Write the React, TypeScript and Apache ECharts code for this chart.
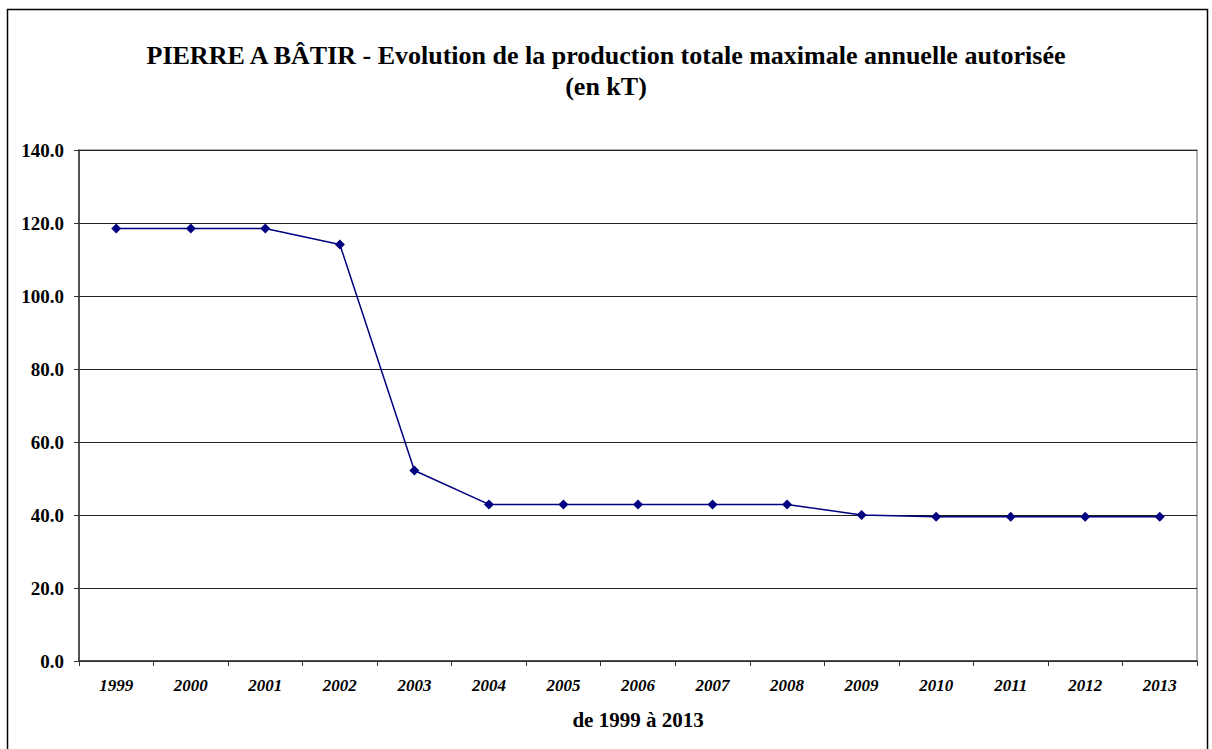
import React, { useEffect, useRef } from "react";
import * as echarts from "echarts";

const years = ["1999", "2000", "2001", "2002", "2003", "2004", "2005", "2006", "2007", "2008", "2009", "2010", "2011", "2012", "2013"];
const production = [118.5, 118.5, 118.5, 114.1, 52.2, 42.9, 42.9, 42.9, 42.9, 42.9, 40.0, 39.5, 39.5, 39.5, 39.5];
const yTicks = { min: 0, max: 140, interval: 20 };
const titleLine1 = "PIERRE A BÂTIR - Evolution de la production totale maximale annuelle autorisée";
const titleLine2 = "(en kT)";
const xAxisName = "de 1999 à 2013";

const FONT = "Liberation Serif";

export default function App() {
  const ref = useRef<HTMLDivElement>(null);
  useEffect(() => {
    if (!ref.current) return;
    const chart = echarts.init(ref.current, null, { renderer: "svg" });
    const titleStyle = {
      fontFamily: FONT,
      fontWeight: "bold",
      fontSize: 26,
      color: "#000",
    };
    chart.setOption({
      animation: false,
      backgroundColor: "#ffffff",
      title: [
        { text: titleLine1, left: "center", top: 37, textStyle: titleStyle },
        { text: titleLine2, left: "center", top: 68, textStyle: titleStyle },
      ],
      graphic: [
        {
          type: "rect",
          shape: { x: 7.5, y: 9.5, width: 1200, height: 760 },
          style: { fill: "none", stroke: "#000", lineWidth: 1.5 },
          silent: true,
          z: 100,
        },
      ],
      grid: {
        left: 79,
        top: 150,
        right: 15,
        bottom: 88,
        show: true,
        borderColor: "#999",
        borderWidth: 1.5,
        containLabel: false,
      },
      xAxis: {
        type: "category",
        data: years,
        boundaryGap: true,
        name: xAxisName,
        nameLocation: "middle",
        nameGap: 48,
        nameTextStyle: { fontFamily: FONT, fontWeight: "bold", fontSize: 21, color: "#000" },
        axisLine: { show: true, lineStyle: { color: "#333", width: 1.5 } },
        axisTick: { show: true, length: 5, lineStyle: { color: "#333" } },
        axisLabel: {
          margin: 16,
          fontFamily: FONT,
          fontWeight: "bold",
          fontStyle: "italic",
          fontSize: 17,
          color: "#000",
          interval: 0,
        },
        splitLine: { show: false },
      },
      yAxis: {
        type: "value",
        min: yTicks.min,
        max: yTicks.max,
        interval: yTicks.interval,
        axisLine: { show: true, lineStyle: { color: "#333", width: 1.5 } },
        axisTick: { show: true, length: 5, lineStyle: { color: "#333" } },
        axisLabel: {
          margin: 15,
          fontFamily: FONT,
          fontWeight: "bold",
          fontSize: 19,
          color: "#000",
          formatter: (v: number) => v.toFixed(1),
        },
        splitLine: { show: true, lineStyle: { color: "#222", width: 1 } },
      },
      series: [
        {
          type: "line",
          data: production,
          symbol: "diamond",
          symbolSize: 10,
          lineStyle: { color: "#000080", width: 1.5 },
          itemStyle: { color: "#000080" },
          z: 10,
        },
      ],
    });
    return () => chart.dispose();
  }, []);
  return (
    <div
      ref={ref}
      style={{ position: "absolute", left: 0, top: 0, width: 1212, height: 749 }}
    />
  );
}
